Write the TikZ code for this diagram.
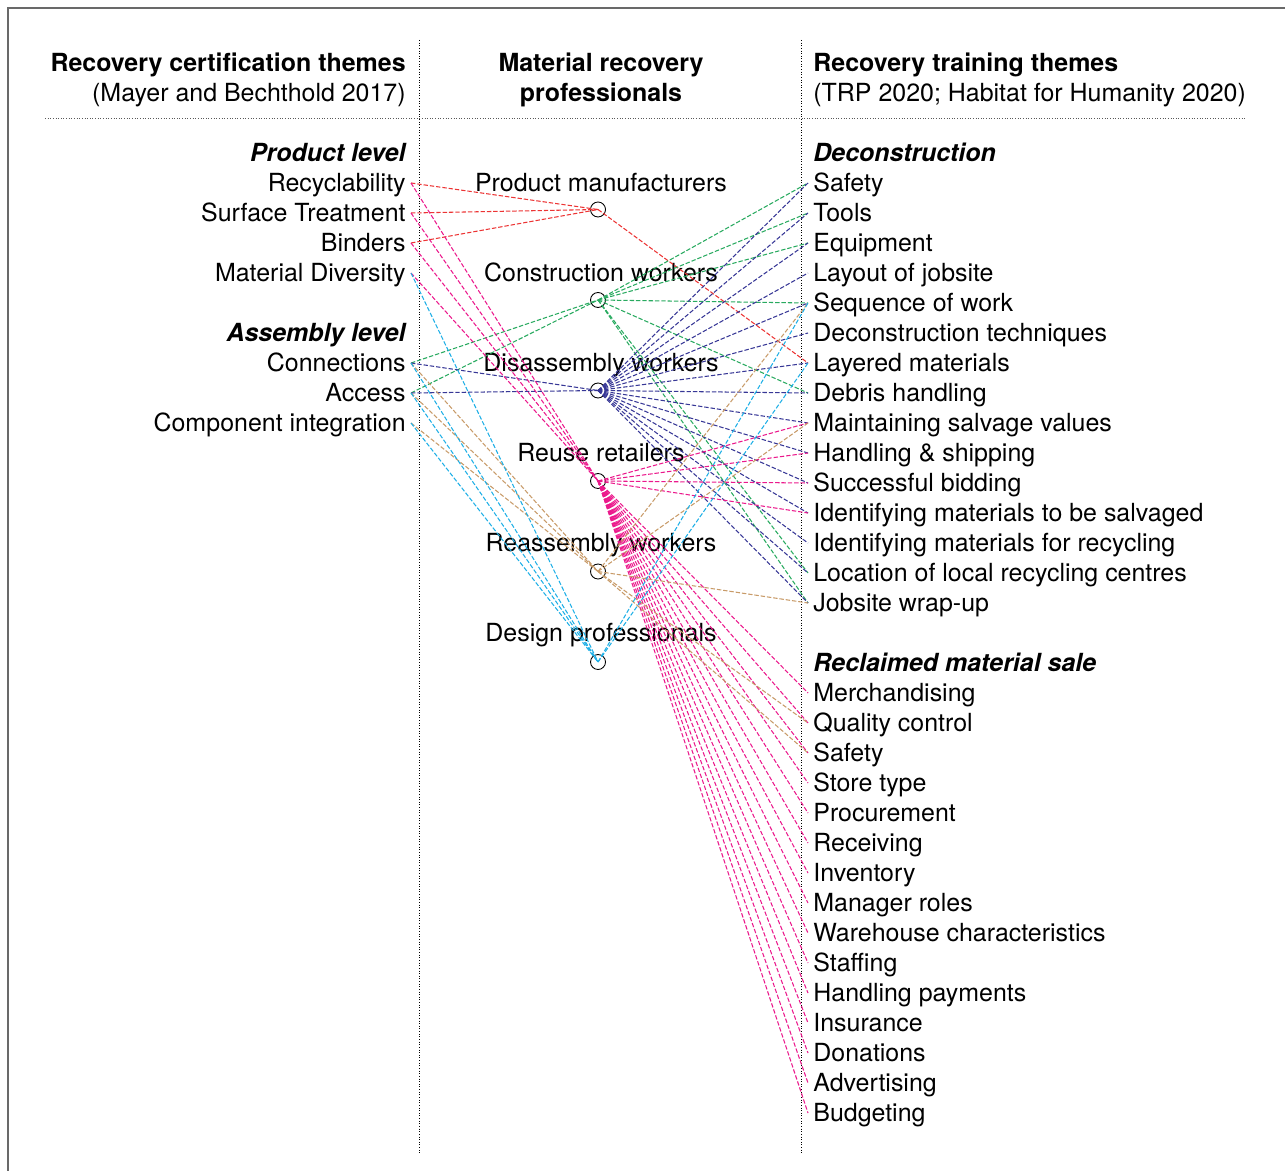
\documentclass[tikz,border=0pt]{standalone}
\usepackage{fontspec}
\setmainfont{TeX Gyre Heros}
\usetikzlibrary{positioning}

\definecolor{manufred}{RGB}{236,52,52}
\definecolor{constrgreen}{RGB}{40,170,95}
\definecolor{disasmblue}{RGB}{55,55,150}
\definecolor{retailpink}{RGB}{235,25,140}
\definecolor{reasmtan}{RGB}{200,155,105}
\definecolor{designcyan}{RGB}{30,175,230}
\definecolor{framegray}{RGB}{105,105,105}

\begin{document}
\begin{tikzpicture}[
        txt/.style={font=\fontsize{14.2pt}{17pt}\selectfont, text height=12pt, text depth=2pt, inner ysep=0pt},
        lefttext/.style={txt, anchor=east, inner xsep=0.1cm},
        righttext/.style={txt, anchor=west, inner xsep=0.1cm},
        midtext/.style={txt, inner xsep=0pt},
        hub/.style={circle, draw, minimum size=0.3cm, inner sep=0pt, line width=0.5pt},
        tie/.style={line width=0.6pt, dash pattern=on 2.5pt off 1.1pt},
        colsep/.style={densely dotted, line width=0.5pt}
    ]
        % Frame
        \useasboundingbox (0,0) rectangle (25.7,-23.42);
        \clip (0,0) rectangle (25.7,-23.42);
        \draw[framegray, line width=1.1pt] (0.16,-0.16) rectangle (26.5,-24.5);

        % Column separators
        \draw[colsep] (8.38,-0.8) -- (8.38,-23.1);
        \draw[colsep] (16.02,-0.8) -- (16.02,-23.1);
        \draw[colsep, black!65] (0.9,-2.36) -- (24.9,-2.36);

        % Column headings
        \node[lefttext] (certhead) at (8.22,-1.26) {\bfseries Recovery certification themes};
        \node[lefttext] (certsrc) at (8.22,-1.86) {(Mayer and Bechthold 2017)};
        \node[midtext] (profhead) at (12.02,-1.26) {\bfseries Material recovery};
        \node[midtext] (profhead2) at (12.02,-1.86) {\bfseries professionals};
        \node[righttext] (trainhead) at (16.16,-1.26) {\bfseries Recovery training themes};
        \node[righttext] (trainsrc) at (16.16,-1.86) {(TRP 2020; Habitat for Humanity 2020)};

        % Certification themes
        \node[lefttext] (prodhead) at (8.22,-3.06) {\bfseries\itshape Product level};
        \foreach \name/\txt [count=\i] in {prod1/Recyclability, prod2/Surface Treatment, prod3/Binders, prod4/Material Diversity}
            \node[lefttext] (\name) at (8.22,{-3.06-0.6*\i}) {\txt};
        \node[lefttext] (asmhead) at (8.22,-6.66) {\bfseries\itshape Assembly level};
        \foreach \name/\txt [count=\i] in {asm1/Connections, asm2/Access, asm3/Component integration}
            \node[lefttext] (\name) at (8.22,{-6.66-0.6*\i}) {\txt};

        % Training themes
        \node[righttext] (dechead) at (16.16,-3.06) {\bfseries\itshape Deconstruction};
        \foreach \txt [count=\i] in {Safety, Tools, Equipment, Layout of jobsite, Sequence of work, Deconstruction techniques, Layered materials, Debris handling, Maintaining salvage values, Handling \& shipping, Successful bidding, Identifying materials to be salvaged, Identifying materials for recycling, Location of local recycling centres, Jobsite wrap-up}
            \node[righttext] (dec\i) at (16.16,{-3.06-0.6*\i}) {\txt};
        \node[righttext] (salehead) at (16.16,-13.26) {\bfseries\itshape Reclaimed material sale};
        \foreach \txt [count=\i] in {Merchandising, Quality control, Safety, Store type, Procurement, Receiving, Inventory, Manager roles, Warehouse characteristics, Staffing, Handling payments, Insurance, Donations, Advertising, Budgeting}
            \node[righttext] (sale\i) at (16.16,{-13.26-0.6*\i}) {\txt};

        % Professionals
        \foreach \name/\txt [count=\i] in {manuf/Product manufacturers, constr/Construction workers, disasm/Disassembly workers, retail/Reuse retailers, reasm/Reassembly workers, design/Design professionals} {
            \node[midtext] (\name-lbl) at (12.02,{-3.66-1.8*(\i-1)}) {\txt};
            \node[hub] (\name) at (11.96,{-4.19-1.81*(\i-1)}) {};
        }

        % Product manufacturers
        \foreach \a in {prod1, prod2, prod3}
            \draw[tie, manufred] (\a.east) -- (manuf.center);
        \draw[tie, manufred] (manuf.center) -- (dec7.west);

        % Construction workers
        \foreach \a in {asm1, asm2}
            \draw[tie, constrgreen] (\a.east) -- (constr.center);
        \foreach \t in {1, 2, 3, 5, 8, 14, 15}
            \draw[tie, constrgreen] (constr.center) -- (dec\t.west);

        % Disassembly workers
        \foreach \a in {asm1, asm2}
            \draw[tie, disasmblue] (\a.east) -- (disasm.center);
        \foreach \t in {1,...,15}
            \draw[tie, disasmblue] (disasm.center) -- (dec\t.west);

        % Reuse retailers
        \foreach \a in {prod1, prod2, prod3, prod4}
            \draw[tie, retailpink] (\a.east) -- (retail.center);
        \foreach \t in {9,...,12}
            \draw[tie, retailpink] (retail.center) -- (dec\t.west);
        \foreach \t in {1,...,15}
            \draw[tie, retailpink] (retail.center) -- (sale\t.west);

        % Reassembly workers
        \foreach \a in {asm1, asm2, asm3}
            \draw[tie, reasmtan] (\a.east) -- (reasm.center);
        \foreach \t in {dec5, dec9, dec15, sale2, sale3}
            \draw[tie, reasmtan] (reasm.center) -- (\t.west);

        % Design professionals
        \foreach \a in {prod4, asm1, asm2, asm3}
            \draw[tie, designcyan] (\a.east) -- (design.center);
        \foreach \t in {dec5, dec7}
            \draw[tie, designcyan] (design.center) -- (\t.west);
    \end{tikzpicture}
\end{document}
